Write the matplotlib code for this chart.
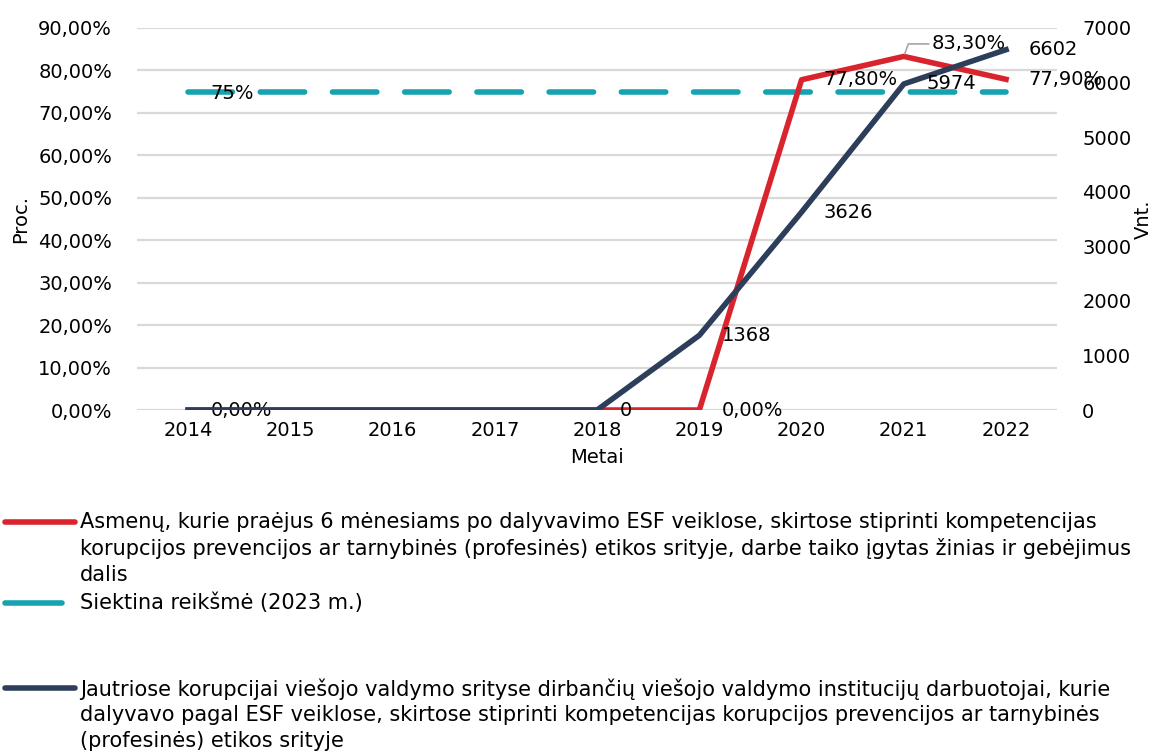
import matplotlib
matplotlib.use("Agg")
import matplotlib.pyplot as plt
from matplotlib.lines import Line2D

# data
years = ["2014", "2015", "2016", "2017", "2018", "2019", "2020", "2021", "2022"]
share = [0.0, 0.0, 0.0, 0.0, 0.0, 0.0, 77.8, 83.3, 77.9]   # proc.
target = [75.0] * 9                                         # proc.
workers = [0, 0, 0, 0, 0, 1368, 3626, 5974, 6602]           # vnt.

share_labels = {0: "0,00%", 5: "0,00%", 6: "77,80%", 7: "83,30%", 8: "77,90%"}
worker_labels = {4: "0", 5: "1368", 6: "3626", 7: "5974", 8: "6602"}

leg_texts = [
    "Asmenų, kurie praėjus 6 mėnesiams po dalyvavimo ESF veiklose, skirtose stiprinti kompetencijas\n"
    "korupcijos prevencijos ar tarnybinės (profesinės) etikos srityje, darbe taiko įgytas žinias ir gebėjimus\n"
    "dalis",
    "Siektina reikšmė (2023 m.)",
    "Jautriose korupcijai viešojo valdymo srityse dirbančių viešojo valdymo institucijų darbuotojai, kurie\n"
    "dalyvavo pagal ESF veiklose, skirtose stiprinti kompetencijas korupcijos prevencijos ar tarnybinės\n"
    "(profesinės) etikos srityje",
]

red = "#D9232D"
teal = "#17A2B0"
navy = "#2C3E5A"
fs = 14

plt.rcParams["font.family"] = ["DejaVu Sans"]
fig = plt.figure(figsize=(11.63, 7.54), dpi=100)
ax = fig.add_axes([0.1178, 0.4562, 0.7912, 0.5067])
ax2 = ax.twinx()

x = list(range(len(years)))

ax.plot(x, target, color=teal, lw=4, dashes=(8, 5), solid_capstyle="round",
        dash_capstyle="round", zorder=3)
ax.plot(x, share, color=red, lw=4, zorder=3)
ax2.plot(x, workers, color=navy, lw=4, zorder=3)

ax.set_xlim(-0.5, 8.5)
ax.set_ylim(0, 90)
ax2.set_ylim(0, 7000)
ax.set_yticks(range(0, 91, 10))
ax.set_yticklabels([f"{v},00%" for v in range(0, 91, 10)])
ax2.set_yticks(range(0, 7001, 1000))
ax.set_xticks(x)
ax.set_xticklabels(years)

for a in (ax, ax2):
    for s in a.spines.values():
        s.set_visible(False)
    a.tick_params(length=0, labelsize=fs, colors="black")
ax.tick_params(axis="y", pad=18)
ax.tick_params(axis="x", pad=8)
ax2.tick_params(axis="y", pad=18)
ax.grid(axis="y", color="#D9D9D9", lw=1.6)
ax.set_axisbelow(True)

ax.set_ylabel("Proc.", fontsize=fs, labelpad=6)
ax2.set_ylabel("Vnt.", fontsize=fs, labelpad=2)
ax.set_xlabel("Metai", fontsize=fs, labelpad=6)

# data labels
for i, t in share_labels.items():
    if i == 7:
        ax.annotate(t, (i, share[i]), xytext=(20, 9), textcoords="offset points",
                    fontsize=fs, va="center", ha="left",
                    arrowprops=dict(arrowstyle="-", color="#A6A6A6", lw=1.2,
                                    connectionstyle="angle,angleA=0,angleB=70",
                                    shrinkA=0, shrinkB=2))
    else:
        ax.annotate(t, (i, share[i]), xytext=(16, 0), textcoords="offset points",
                    fontsize=fs, va="center", ha="left")
ax.annotate("75%", (0, target[0]), xytext=(16, -1), textcoords="offset points",
            fontsize=fs, va="center", ha="left", zorder=5)
for i, t in worker_labels.items():
    ax2.annotate(t, (i, workers[i]), xytext=(16, 0), textcoords="offset points",
                 fontsize=fs, va="center", ha="left")

# legend drawn by hand to match layout
rows_y = [522, 603, 688]
handles = [(red, 75), (teal, 62), (navy, 75)]
for (c, x1), yy, txt in zip(handles, rows_y, leg_texts):
    fy = 1 - yy / 754
    ln = Line2D([5 / 1163, x1 / 1163], [fy, fy], transform=fig.transFigure,
                color=c, lw=4, solid_capstyle="round")
    fig.add_artist(ln)
    fig.text(80 / 1163, fy + 10 / 754, txt, fontsize=15, va="top", ha="left",
             linespacing=1.35)

fig.savefig("out.png", dpi=100)
